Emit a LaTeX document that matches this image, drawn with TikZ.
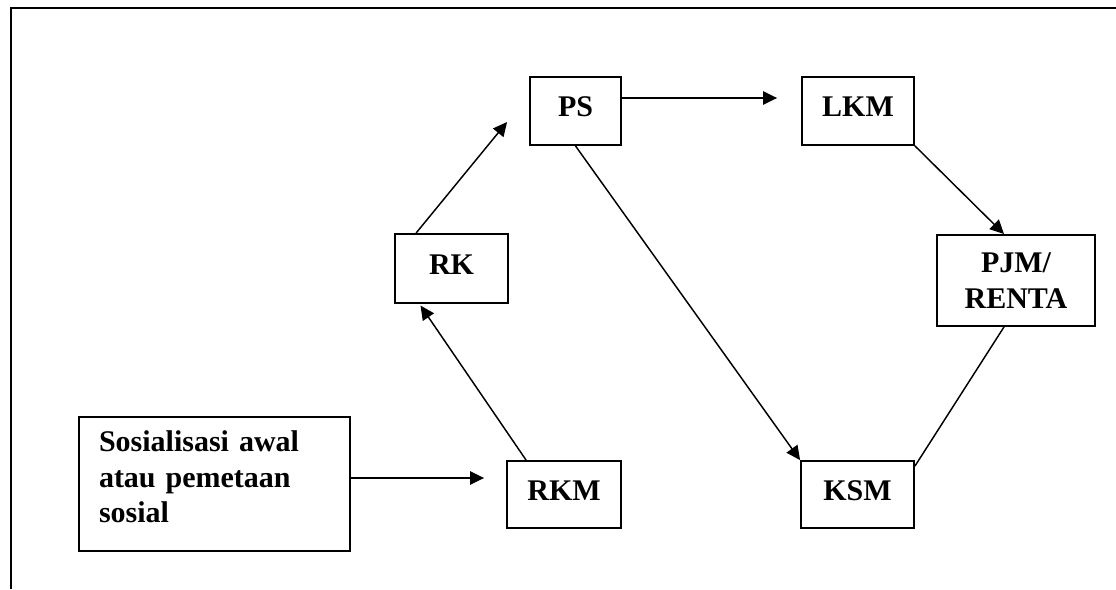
\documentclass[tikz,border=0pt]{standalone}
\usepackage{fontspec}
\setmainfont{Liberation Serif}
\usetikzlibrary{arrows.meta}

\tikzset{every picture/.style={line width=0.75pt}}
\tikzset{
  box/.style={draw, line width=1.4pt, inner sep=0pt, align=center, text depth=6pt,
    font=\bfseries\fontsize{22.5}{27}\selectfont},
  textbox/.style={draw, line width=1.4pt, inner ysep=0pt, inner xsep=15pt, align=left,
    font=\bfseries\fontsize{22.5}{26.6}\selectfont},
  arr/.style={line width=1.1pt, -{Triangle[length=10.5pt,width=10pt]}},
  conn/.style={line width=1.1pt}
}

\begin{document}
\begin{tikzpicture}[x=0.75pt,y=0.75pt,yscale=-1,xscale=1]
\useasboundingbox (0,0) rectangle (1116,589);
%Shape: Frame (only top and left sides in view)
\draw [line width=1.5pt] (11,589) -- (11,8) -- (1116,8) ;

% Text Node
\node (soc) at (214.5,484) [textbox, text width=173.25pt, minimum height=100.5pt, text depth=63.7pt]
  {Sosialisasi awal\\atau pemetaan\\sosial};
% Text Node
\node (rkm) at (564,494.5) [box, minimum width=85.5pt, minimum height=50.25pt] {RKM};
% Text Node
\node (ksm) at (857.5,494.5) [box, minimum width=84.75pt, minimum height=50.25pt] {KSM};
% Text Node
\node (rk) at (451.5,268.5) [box, minimum width=84.75pt, minimum height=51.75pt] {RK};
% Text Node
\node (ps) at (575.5,111) [box, minimum width=68.25pt, minimum height=51pt] {PS};
% Text Node
\node (lkm) at (858,111) [box, minimum width=84pt, minimum height=51pt] {LKM};
% Text Node
\node (pjm) at (1016,280.5) [box, minimum width=118.5pt, minimum height=68.25pt, text depth=0pt] {PJM/\\RENTA};

%Connectors (yshift is flipped by yscale=-1)
\draw [arr, shorten >=16.5pt] ([yshift=-4.5pt]soc.east) -- ([yshift=-4.5pt]soc.east -| rkm.west) ;
\draw [arr, shorten >=1.5pt] ([xshift=15pt]rkm.north west) -- ([xshift=19pt]rk.south west) ;
\draw [arr] ([xshift=16.5pt]rk.north west) -- ([xshift=-16.5pt,yshift=8.25pt]ps.west) ;
\draw [arr, shorten >=18pt] ([yshift=-9.75pt]ps.east) -- ([yshift=-9.75pt]lkm.west) ;
\draw [arr] (ps.south) -- (ksm.north west) ;
\draw [arr] (lkm.south east) -- ([xshift=-9pt]pjm.north) ;
\draw [conn] ([xshift=-9pt]pjm.south) -- ([yshift=4.5pt]ksm.north east) ;
\end{tikzpicture}
\end{document}
